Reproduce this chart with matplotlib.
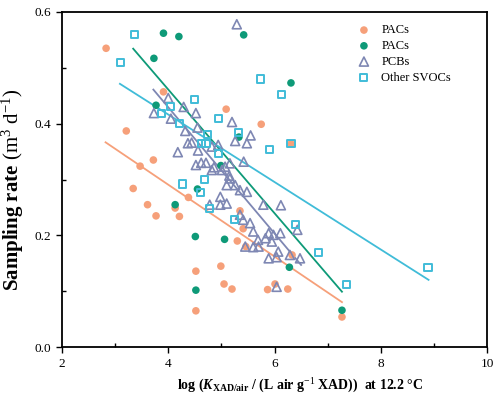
import numpy as np
import matplotlib
matplotlib.use("Agg")
import matplotlib.pyplot as plt

plt.rcParams["font.family"] = ["Liberation Serif", "DejaVu Serif"]
plt.rcParams["mathtext.fontset"] = "custom"
plt.rcParams["mathtext.rm"] = "Liberation Serif"
plt.rcParams["mathtext.it"] = "Liberation Serif:italic:bold"
plt.rcParams["mathtext.bf"] = "Liberation Serif:bold"

# PACs (orange)
pac1_x = [2.83, 3.91, 5.09, 5.75, 3.21, 6.31, 3.72, 3.47, 3.34, 3.61, 3.77, 4.13, 4.21, 4.38,
          5.35, 5.41, 5.30, 5.46, 4.52, 4.99, 5.05, 5.20, 4.52, 5.87, 6.01, 6.25, 6.33, 7.27]
pac1_y = [0.535, 0.457, 0.426, 0.399, 0.387, 0.364, 0.335, 0.324, 0.284, 0.255, 0.235, 0.249, 0.234, 0.268,
          0.244, 0.212, 0.190, 0.180, 0.136, 0.145, 0.113, 0.104, 0.065, 0.103, 0.113, 0.104, 0.165, 0.054]

# PACs (green)
pac2_x = [3.91, 4.20, 5.42, 3.73, 6.31, 3.77, 5.33, 4.99, 4.55, 4.13, 4.51, 5.06, 4.52, 6.28, 7.27]
pac2_y = [0.562, 0.556, 0.559, 0.517, 0.473, 0.433, 0.376, 0.325, 0.283, 0.255, 0.198, 0.193, 0.102, 0.143, 0.066]

# PCBs
pcb_x = [5.29, 3.73, 4.00, 4.29, 4.52, 4.05, 5.20, 4.32, 4.55, 5.55, 5.26, 5.48, 4.37, 4.44, 4.94,
         4.82, 4.56, 4.18, 5.42, 4.52, 4.62, 4.71, 4.86, 5.07, 5.16, 5.15, 4.82, 5.01, 4.98, 5.10,
         4.98, 5.10, 5.16, 5.26, 5.35, 5.48, 5.35, 5.54, 5.41, 5.60, 5.45, 5.69, 5.79, 6.12, 6.43,
         5.89, 5.98, 6.11, 5.83, 5.95, 5.70, 5.89, 6.07, 6.04, 6.29, 6.48, 6.04, 4.78, 5.60]
pcb_y = [0.578, 0.419, 0.446, 0.430, 0.419, 0.409, 0.403, 0.387, 0.393, 0.379, 0.369, 0.365, 0.365, 0.366, 0.362,
         0.359, 0.352, 0.349, 0.332, 0.326, 0.330, 0.330, 0.322, 0.323, 0.329, 0.307, 0.317, 0.317, 0.269, 0.257,
         0.255, 0.290, 0.302, 0.290, 0.281, 0.278, 0.237, 0.222, 0.228, 0.207, 0.180, 0.192, 0.255, 0.254, 0.210,
         0.204, 0.201, 0.204, 0.195, 0.189, 0.180, 0.159, 0.171, 0.161, 0.165, 0.159, 0.108, 0.255, 0.179]

# Other SVOCs
svoc_x = [3.36, 3.10, 5.73, 6.14, 4.50, 4.04, 3.88, 4.95, 4.22, 4.74, 5.33, 5.91, 4.62, 4.71, 4.95,
          6.31, 4.69, 4.26, 4.60, 4.78, 5.25, 6.39, 6.83, 7.36, 8.89]
svoc_y = [0.559, 0.510, 0.480, 0.453, 0.444, 0.430, 0.419, 0.410, 0.401, 0.380, 0.385, 0.354, 0.365, 0.364, 0.347,
          0.364, 0.300, 0.292, 0.276, 0.248, 0.229, 0.220, 0.169, 0.112, 0.142]

# regression lines: slope, intercept, x range
fit_slope = [-0.0643, -0.1107, -0.1129, -0.0604]
fit_icpt = [0.548, 0.904, 0.881, 0.658]
fit_x0 = [2.82, 3.34, 3.72, 3.09]
fit_x1 = [7.27, 7.27, 6.50, 8.90]

c_orange = "#F6A07A"
c_green = "#0E9A78"
c_pcb = "#7E87B3"
c_svoc = "#40BCD8"

fig = plt.figure(figsize=(5.0, 3.99), dpi=100)
ax = fig.add_axes([0.124, 0.130, 0.850, 0.840])

ax.scatter(pac1_x, pac1_y, s=30, color=c_orange, edgecolors="none", label="PACs", zorder=3)
ax.scatter(pac2_x, pac2_y, s=30, color=c_green, edgecolors="none", label="PACs", zorder=3)
ax.scatter(pcb_x, pcb_y, s=42, marker="^", facecolors="none", edgecolors=c_pcb, linewidths=1.2,
           label="PCBs", zorder=3)
ax.scatter(svoc_x, svoc_y, s=26, marker="s", facecolors="none", edgecolors=c_svoc, linewidths=1.4,
           label="Other SVOCs", zorder=3)

for k, col in zip(range(4), [c_orange, c_green, c_pcb, c_svoc]):
    xs = np.array([fit_x0[k], fit_x1[k]])
    ax.plot(xs, fit_slope[k] * xs + fit_icpt[k], color=col, lw=1.3, zorder=2)

ax.set_xlim(2, 10)
ax.set_ylim(0, 0.6)
ax.set_xticks([2, 4, 6, 8, 10])
ax.set_xticks([3, 5, 7, 9], minor=True)
ax.set_yticks([0.0, 0.2, 0.4, 0.6])
ax.set_yticks([0.1, 0.3, 0.5], minor=True)
ax.yaxis.set_major_formatter(matplotlib.ticker.FormatStrFormatter("%.1f"))
ax.tick_params(which="major", direction="out", length=4, width=1, labelsize=9.5)
ax.tick_params(which="minor", direction="in", length=3, width=1)
for sp in ax.spines.values():
    sp.set_linewidth(1.3)

ax.set_xlabel(r"log ($\mathit{K}_{\mathbf{XAD/air}}$ / (L air g$^{\mathrm{-1}}$ XAD))  at 12.2 °C",
              fontsize=10, fontweight="bold")
ax.xaxis.set_label_coords(0.56, -0.087)
ax.set_ylabel(r"Sampling rate $\mathrm{(m^{3}\ d^{-1})}$", fontsize=15, fontweight="bold")
ax.yaxis.set_label_coords(-0.085, 0.469)

ax.legend(loc="upper left", frameon=False, fontsize=9, bbox_to_anchor=(0.681, 0.978),
          handletextpad=0.8, labelspacing=0.3, handlelength=1.2, borderaxespad=0)

fig.savefig("out.png", dpi=100)
